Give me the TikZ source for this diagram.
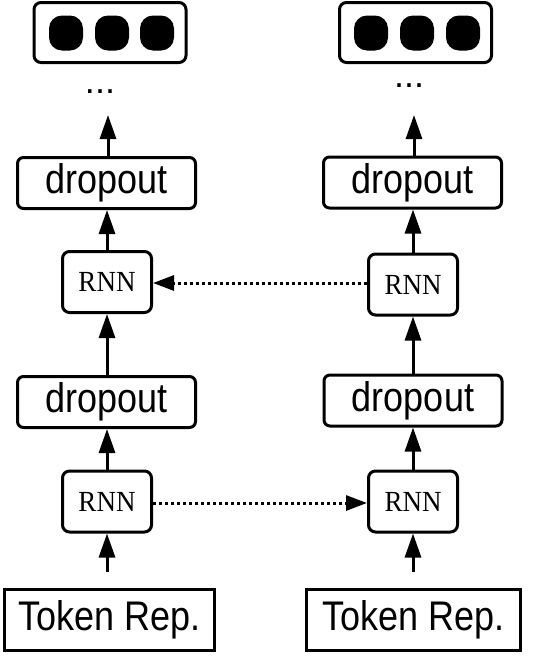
\documentclass[tikz,border=0pt]{standalone}
\usepackage{graphicx}
\usepackage{fontspec}
\setmainfont{Liberation Sans}
\newfontfamily\rnnfont{Liberation Serif}
\usetikzlibrary{arrows.meta}
\newcommand{\tallsf}[1]{\scalebox{1}[1.15]{#1}}
\newcommand{\tallrm}[1]{\scalebox{1}[1.08]{#1}}
\begin{document}
\begin{tikzpicture}[x=1pt,y=1pt,
  box/.style={draw,line width=3pt,rounded corners=6pt,inner sep=0pt,font=\fontsize{36}{40}\selectfont},
  rnnbox/.style={draw,line width=3pt,rounded corners=7pt,inner sep=0pt,minimum width=89pt,minimum height=61pt,font=\rnnfont\fontsize{27}{30}\selectfont},
  dropbox/.style={box,minimum width=178pt,minimum height=51pt},
  outbox/.style={draw,line width=3pt,rounded corners=7pt,inner sep=0pt,minimum width=152pt,minimum height=60pt},
  tokbox/.style={draw,line width=3pt,inner sep=0pt,minimum height=61pt,font=\fontsize{36}{40}\selectfont},
  blob/.style={fill=black,rounded corners=13pt,inner sep=0pt,minimum width=34pt,minimum height=35pt},
  dots/.style={inner sep=0pt,font=\fontsize{36}{40}\selectfont},
  flow/.style={line width=3pt,-{Triangle[length=24pt,width=16pt]}},
  rec/.style={line width=3pt,dash pattern=on 3pt off 3pt,-{Triangle[length=21pt,width=15pt]}}
]
\useasboundingbox (0,0) rectangle (540,-659);
% left column
\node[outbox] (outL) at (110,-32.5) {};
\node[blob] (bL1) at (66,-33) {};
\node[blob] (bL2) at (112,-33) {};
\node[blob] (bL3) at (157,-33) {};
\node[dots,anchor=base] (dL) at (100,-93) {...};
\coordinate (aL) at (108,-115);
\node[dropbox] (dropL2) at (106.5,-183) {\tallsf{dropout}};
\node[rnnbox] (rnnL2) at (107,-282) {\tallrm{RNN}};
\node[dropbox] (dropL1) at (106.5,-402) {\tallsf{dropout}};
\node[rnnbox] (rnnL1) at (107,-501.5) {\tallrm{RNN}};
\node[tokbox,minimum width=210pt] (tokL) at (109.5,-620) {\tallsf{Token Rep.}};
% right column
\node[outbox] (outR) at (415.5,-32.5) {};
\node[blob] (bR1) at (371,-33) {};
\node[blob] (bR2) at (417,-33) {};
\node[blob] (bR3) at (463,-33) {};
\node[dots,anchor=base] (dR) at (409,-87) {...};
\coordinate (aR) at (414,-115);
\node[dropbox] (dropR2) at (412.5,-182.5) {\tallsf{dropout}};
\node[rnnbox] (rnnR2) at (413,-284.5) {\tallrm{RNN}};
\node[dropbox] (dropR1) at (413,-400.5) {\tallsf{dropout}};
\node[rnnbox] (rnnR1) at (413,-501.5) {\tallrm{RNN}};
\node[tokbox,minimum width=214pt] (tokR) at (413.5,-620) {\tallsf{Token Rep.}};
% vertical flows
\draw[flow] (dropL2.north -| aL) -- (aL);
\draw[flow] (rnnL2.north) -- (dropL2.south -| rnnL2.north);
\draw[flow] (dropL1.north -| rnnL2.south) -- (rnnL2.south);
\draw[flow] (rnnL1.north) -- (dropL1.south -| rnnL1.north);
\draw[flow,shorten <=16pt] (tokL.north -| rnnL1.south) -- (rnnL1.south);
\draw[flow] (dropR2.north -| aR) -- (aR);
\draw[flow] (rnnR2.north) -- (dropR2.south -| rnnR2.north);
\draw[flow] (dropR1.north -| rnnR2.south) -- (rnnR2.south);
\draw[flow] (rnnR1.north) -- (dropR1.south -| rnnR1.north);
\draw[flow,shorten <=16pt] (tokR.north -| rnnR1.south) -- (rnnR1.south);
% recurrent connections
\draw[rec] (rnnR2.west |- 0,-283) -- (rnnL2.east |- 0,-283);
\draw[rec] (rnnL1.east |- 0,-503) -- (rnnR1.west |- 0,-503);
\end{tikzpicture}
\end{document}
